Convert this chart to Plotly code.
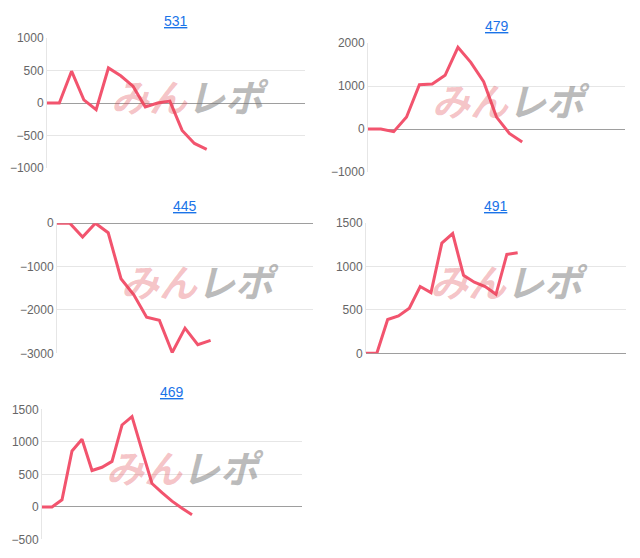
import plotly.graph_objects as go

titles = ["531", "479", "445", "491", "469"]
s531 = [0, 0, 490, 50, -100, 540, 420, 260, -60, 0, 30, -420, -620, -710]
s479 = [0, 0, -60, 280, 1030, 1050, 1250, 1900, 1550, 1100, 280, -100, -300]
s445 = [0, 0, -320, 0, -220, -1280, -1650, -2170, -2240, -2980, -2420, -2800, -2700]
s491 = [0, 0, 390, 430, 520, 770, 700, 1270, 1380, 900, 820, 770, 680, 1140, 1160]
s469 = [0, 0, 110, 860, 1040, 560, 610, 700, 1260, 1390, 870, 360, 220, 90, -20, -120]
series = [s531, s479, s445, s491, s469]
x_max = [21, 20, 20, 24, 26]
y_ranges = [[-1000, 1000], [-1000, 2000], [-3000, 0], [0, 1500], [-500, 1500]]
y_dtick = [500, 1000, 1000, 500, 500]

W, H = 640, 558
# target pixel boxes in the photo: x0, x1, ytop, ybottom
boxes = [(47, 305, 37, 167), (368, 625, 42, 171), (57, 313, 222, 352),
         (366, 626, 222, 352), (42, 302, 408, 538)]


def px_x(p):
    return (p - 8) / W


def px_y(p):
    q = (p - 14) / 0.974
    return 1 - q / H


fig = go.Figure()
annotations = []
for i, (ttl, ys, xm, yr, dt, b) in enumerate(zip(titles, series, x_max, y_ranges, y_dtick, boxes)):
    n = i + 1
    xa = "x" if n == 1 else f"x{n}"
    ya = "y" if n == 1 else f"y{n}"
    fig.add_trace(go.Scatter(x=list(range(len(ys))), y=ys, mode="lines",
                             line=dict(color="#f2546e", width=3), xaxis=xa, yaxis=ya,
                             showlegend=False, hoverinfo="skip"))
    x0, x1, yt, yb = b
    fig.update_layout(**{
        ("xaxis" if n == 1 else f"xaxis{n}"): dict(domain=[px_x(x0), px_x(x1)], range=[0, xm],
            showgrid=False, showticklabels=False, zeroline=False, showline=False,
            anchor=ya, fixedrange=True),
        ("yaxis" if n == 1 else f"yaxis{n}"): dict(domain=[px_y(yb), px_y(yt)], range=yr, dtick=dt,
            showgrid=True, gridcolor="#e6e6e6", gridwidth=1, zeroline=True,
            zerolinecolor="#9e9e9e", zerolinewidth=1, showline=True, linecolor="#e6e6e6",
            tickfont=dict(family="Arial", size=12, color="#666666"),
            ticks="", anchor=xa, fixedrange=True),
    })
    cx = px_x((x0 + x1) / 2)
    annotations.append(dict(text=f"<u>{ttl}</u>", x=cx, y=px_y(yt - 17), xref="paper",
                            yref="paper", showarrow=False, xanchor="center", yanchor="middle",
                            font=dict(family="Arial", size=14, color="#1a73e8")))
    annotations.append(dict(
        text="<b><i><span style='color:rgba(224,70,80,0.33)'>みん</span>"
             "<span style='color:rgba(120,120,120,0.5)'>レポ</span></i></b>",
        x=px_x(x0 + 143), y=px_y((yt + yb) / 2 - 8), xref="paper", yref="paper",
        xanchor="center", yanchor="middle",
        showarrow=False, font=dict(family="Noto Sans CJK JP", size=38)))

fig.update_layout(width=W, height=H, margin=dict(l=0, r=0, t=0, b=0),
                  paper_bgcolor="white", plot_bgcolor="white", annotations=annotations)
fig.write_html("out.html")
